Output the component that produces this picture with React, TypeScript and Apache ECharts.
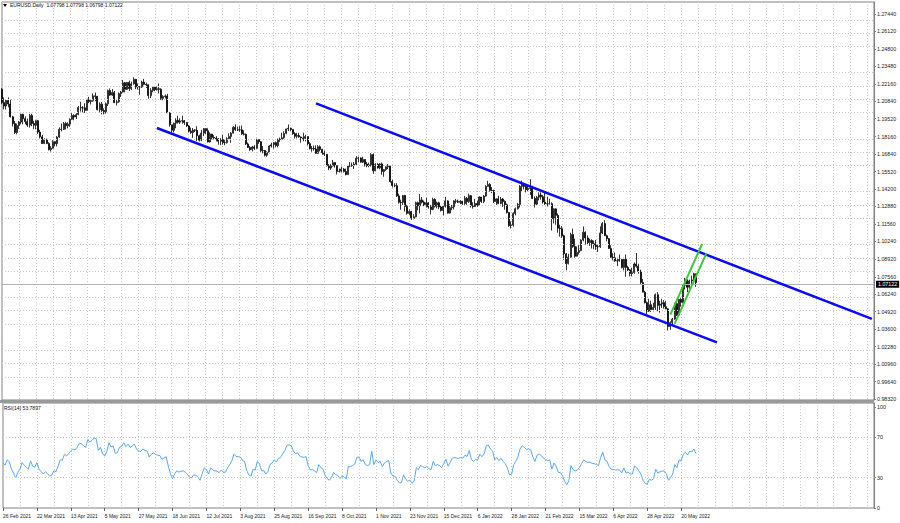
import React, { useEffect, useRef } from "react";
import * as echarts from "echarts";

const symbolName = "EURUSD.Daily";
const firstOpen = 1.2175;

const closes = [
  1.2074,1.2048,1.2090,1.2063,1.1966,1.1915,1.1847,1.1900,1.1927,1.1985,
  1.1952,1.1930,1.1904,1.1977,1.1916,1.1903,1.1937,1.1851,1.1815,1.1765,
  1.1793,1.1764,1.1718,1.1729,1.1778,1.1763,1.1813,1.1872,1.1871,1.1915,
  1.1899,1.1911,1.1948,1.1977,1.1965,1.1983,1.2036,1.2034,1.2034,1.2015,
  1.2095,1.2082,1.2089,1.2125,1.2121,1.2020,1.2062,1.2014,1.2005,1.2065,
  1.2165,1.2131,1.2150,1.2073,1.2080,1.2142,1.2154,1.2224,1.2174,1.2227,
  1.2180,1.2215,1.2250,1.2193,1.2194,1.2193,1.2229,1.2212,1.2209,1.2127,
  1.2166,1.2191,1.2172,1.2179,1.2174,1.2106,1.2120,1.2124,1.1996,1.1906,
  1.1864,1.1918,1.1940,1.1926,1.1935,1.1937,1.1924,1.1897,1.1858,1.1847,
  1.1866,1.1865,1.1823,1.1790,1.1843,1.1877,1.1861,1.1776,1.1836,1.1810,
  1.1806,1.1800,1.1781,1.1794,1.1771,1.1771,1.1801,1.1817,1.1843,1.1887,
  1.1869,1.1868,1.1868,1.1837,1.1834,1.1761,1.1735,1.1718,1.1738,1.1728,
  1.1794,1.1778,1.1710,1.1712,1.1676,1.1697,1.1745,1.1755,1.1771,1.1750,
  1.1795,1.1797,1.1808,1.1841,1.1874,1.1880,1.1871,1.1839,1.1819,1.1825,
  1.1814,1.1807,1.1803,1.1817,1.1763,1.1725,1.1726,1.1723,1.1690,1.1740,
  1.1720,1.1694,1.1683,1.1597,1.1579,1.1595,1.1620,1.1597,1.1553,1.1555,
  1.1571,1.1552,1.1529,1.1594,1.1597,1.1600,1.1608,1.1653,1.1655,1.1623,
  1.1644,1.1609,1.1597,1.1603,1.1681,1.1558,1.1607,1.1580,1.1610,1.1553,
  1.1567,1.1588,1.1594,1.1478,1.1446,1.1445,1.1368,1.1320,1.1319,1.1371,
  1.1288,1.1236,1.1250,1.1197,1.1210,1.1317,1.1293,1.1338,1.1321,1.1302,
  1.1316,1.1285,1.1265,1.1342,1.1290,1.1316,1.1284,1.1258,1.1290,1.1330,
  1.1238,1.1279,1.1285,1.1330,1.1328,1.1320,1.1328,1.1310,1.1350,1.1325,
  1.1370,1.1296,1.1287,1.1311,1.1297,1.1360,1.1326,1.1367,1.1440,1.1455,
  1.1410,1.1409,1.1325,1.1346,1.1311,1.1344,1.1325,1.1302,1.1243,1.1143,
  1.1147,1.1235,1.1271,1.1303,1.1440,1.1457,1.1440,1.1416,1.1424,1.1425,
  1.1349,1.1306,1.1358,1.1375,1.1362,1.1322,1.1309,1.1308,1.1309,1.1196,
  1.1270,1.1221,1.1124,1.1120,1.1066,1.0930,1.0856,1.0905,1.1076,1.0985,
  1.0912,1.0940,1.0955,1.1034,1.1093,1.1050,1.1016,1.1031,1.1007,1.0997,
  1.0983,1.0983,1.1087,1.1159,1.1067,1.1045,1.0970,1.0904,1.0900,1.0876,
  1.0877,1.0888,1.0827,1.0889,1.0827,1.0808,1.0781,1.0788,1.0853,1.0836,
  1.0798,1.0713,1.0640,1.0560,1.0498,1.0545,1.0508,1.0525,1.0621,1.0540,
  1.0550,1.0560,1.0530,1.0514,1.0380,1.0410,1.0436,1.0553,1.0467,1.0585,
  1.0563,1.0692,1.0734,1.0677,1.0725,1.0733,1.07798,1.07122
];

const highs = [
  1.2183,1.2113,1.2100,1.2113,1.2095,1.1974,1.1935,1.1915,1.1935,1.1990,
  1.1990,1.1970,1.1953,1.1989,1.1990,1.1936,1.1944,1.1943,1.1868,1.1830,
  1.1804,1.1802,1.1775,1.1745,1.1790,1.1780,1.1820,1.1887,1.1915,1.1927,
  1.1928,1.1925,1.1955,1.1994,1.1986,1.1994,1.2048,1.2080,1.2047,1.2069,
  1.2102,1.2117,1.2095,1.2143,1.2150,1.2125,1.2075,1.2078,1.2030,1.2075,
  1.2172,1.2181,1.2177,1.2162,1.2093,1.2150,1.2162,1.2245,1.2229,1.2230,
  1.2240,1.2232,1.2266,1.2253,1.2219,1.2200,1.2240,1.2254,1.2225,1.2213,
  1.2183,1.2195,1.2192,1.2196,1.2218,1.2183,1.2130,1.2135,1.2140,1.2003,
  1.1906,1.1922,1.1955,1.1975,1.1955,1.1975,1.1942,1.1926,1.1904,1.1885,
  1.1882,1.1873,1.1895,1.1832,1.1868,1.1880,1.1880,1.1880,1.1849,1.1838,
  1.1828,1.1820,1.1806,1.1806,1.1829,1.1791,1.1812,1.1841,1.1850,1.1896,
  1.1909,1.1892,1.1896,1.1900,1.1865,1.1840,1.1772,1.1746,1.1745,1.1752,
  1.1800,1.1794,1.1783,1.1745,1.1715,1.1705,1.1752,1.1770,1.1776,1.1780,
  1.1802,1.1810,1.1846,1.1857,1.1876,1.1909,1.1885,1.1872,1.1850,1.1845,
  1.1845,1.1817,1.1846,1.1830,1.1817,1.1775,1.1745,1.1750,1.1750,1.1752,
  1.1750,1.1725,1.1712,1.1685,1.1610,1.1610,1.1640,1.1625,1.1600,1.1575,
  1.1590,1.1580,1.1575,1.1600,1.1624,1.1620,1.1625,1.1668,1.1665,1.1660,
  1.1665,1.1645,1.1625,1.1620,1.1692,1.1690,1.1616,1.1615,1.1616,1.1620,
  1.1570,1.1590,1.1609,1.1595,1.1490,1.1464,1.1465,1.1385,1.1340,1.1375,
  1.1375,1.1300,1.1265,1.1255,1.1230,1.1325,1.1325,1.1383,1.1360,1.1333,
  1.1355,1.1320,1.1300,1.1355,1.1350,1.1325,1.1325,1.1295,1.1300,1.1360,
  1.1335,1.1305,1.1300,1.1335,1.1345,1.1340,1.1335,1.1330,1.1368,1.1360,
  1.1385,1.1375,1.1320,1.1346,1.1331,1.1365,1.1360,1.1375,1.1450,1.1482,
  1.1465,1.1435,1.1415,1.1350,1.1369,1.1360,1.1352,1.1335,1.1310,1.1245,
  1.1175,1.1245,1.1280,1.1315,1.1450,1.1483,1.1465,1.1445,1.1450,1.1495,
  1.1445,1.1365,1.1368,1.1395,1.1395,1.1375,1.1395,1.1362,1.1347,1.1320,
  1.1275,1.1275,1.1235,1.1150,1.1140,1.1075,1.0935,1.0930,1.1090,1.1121,
  1.1045,1.0985,1.0995,1.1040,1.1137,1.1100,1.1070,1.1045,1.1040,1.1030,
  1.1035,1.1000,1.1138,1.1170,1.1185,1.1075,1.1050,1.0995,1.0935,1.0940,
  1.0900,1.0925,1.0890,1.0900,1.0925,1.0840,1.0815,1.0825,1.0865,1.0936,
  1.0855,1.0810,1.0740,1.0650,1.0570,1.0590,1.0575,1.0560,1.0630,1.0640,
  1.0575,1.0590,1.0580,1.0575,1.0518,1.0420,1.0445,1.0560,1.0565,1.0590,
  1.0595,1.0695,1.0748,1.0735,1.0735,1.0765,1.0787,1.07798
];

const lows = [
  1.2062,1.2023,1.2022,1.2039,1.1962,1.1893,1.1836,1.1834,1.1875,1.1910,
  1.1910,1.1910,1.1890,1.1885,1.1895,1.1873,1.1872,1.1837,1.1803,1.1762,
  1.1760,1.1760,1.1712,1.1704,1.1725,1.1743,1.1743,1.1808,1.1856,1.1866,
  1.1870,1.1879,1.1890,1.1944,1.1940,1.1950,1.1979,1.2006,1.2000,1.1995,
  1.2015,1.2070,1.2060,1.2080,1.2084,1.2015,1.2000,1.1986,1.1985,1.1990,
  1.2048,1.2125,1.2125,1.2073,1.2052,1.2073,1.2117,1.2150,1.2151,1.2170,
  1.2162,1.2168,1.2210,1.2176,1.2172,1.2133,1.2185,1.2205,1.2185,1.2104,
  1.2108,1.2152,1.2160,1.2164,1.2143,1.2093,1.2092,1.2105,1.1995,1.1892,
  1.1847,1.1848,1.1880,1.1915,1.1912,1.1915,1.1905,1.1890,1.1848,1.1837,
  1.1807,1.1852,1.1782,1.1780,1.1782,1.1820,1.1836,1.1772,1.1772,1.1795,
  1.1795,1.1780,1.1755,1.1752,1.1755,1.1752,1.1764,1.1798,1.1770,1.1840,
  1.1859,1.1859,1.1853,1.1830,1.1825,1.1752,1.1730,1.1707,1.1705,1.1715,
  1.1725,1.1762,1.1700,1.1690,1.1666,1.1664,1.1690,1.1734,1.1725,1.1735,
  1.1735,1.1777,1.1790,1.1800,1.1834,1.1858,1.1858,1.1830,1.1802,1.1803,
  1.1808,1.1770,1.1782,1.1782,1.1750,1.1720,1.1702,1.1710,1.1685,1.1685,
  1.1705,1.1680,1.1670,1.1590,1.1563,1.1565,1.1590,1.1582,1.1530,1.1545,
  1.1545,1.1545,1.1524,1.1530,1.1585,1.1588,1.1571,1.1600,1.1622,1.1620,
  1.1618,1.1590,1.1585,1.1585,1.1590,1.1535,1.1555,1.1575,1.1570,1.1528,
  1.1513,1.1558,1.1570,1.1468,1.1432,1.1434,1.1360,1.1310,1.1263,1.1300,
  1.1250,1.1227,1.1225,1.1186,1.1192,1.1206,1.1260,1.1235,1.1310,1.1290,
  1.1280,1.1272,1.1228,1.1260,1.1280,1.1275,1.1268,1.1250,1.1222,1.1280,
  1.1235,1.1235,1.1260,1.1265,1.1310,1.1315,1.1305,1.1300,1.1300,1.1300,
  1.1315,1.1280,1.1272,1.1285,1.1285,1.1292,1.1315,1.1313,1.1363,1.1438,
  1.1400,1.1390,1.1315,1.1300,1.1305,1.1305,1.1285,1.1264,1.1235,1.1135,
  1.1121,1.1135,1.1221,1.1265,1.1280,1.1400,1.1417,1.1395,1.1400,1.1375,
  1.1345,1.1280,1.1295,1.1335,1.1340,1.1310,1.1300,1.1288,1.1303,1.1106,
  1.1160,1.1150,1.1090,1.1060,1.1050,1.0885,1.0806,1.0850,1.0900,1.0975,
  1.0900,1.0910,1.0925,1.0950,1.1025,1.1000,1.0995,1.0990,1.0970,1.0965,
  1.0960,1.0945,1.0975,1.1080,1.1065,1.1025,1.0970,1.0900,1.0880,1.0870,
  1.0837,1.0870,1.0820,1.0805,1.0757,1.0800,1.0760,1.0760,1.0780,1.0825,
  1.0780,1.0695,1.0640,1.0555,1.0471,1.0490,1.0490,1.0495,1.0505,1.0495,
  1.0485,1.0520,1.0515,1.0510,1.0350,1.0355,1.0390,1.0430,1.0460,1.0460,
  1.0530,1.0555,1.0660,1.0640,1.0665,1.0695,1.0725,1.06798
];

const rsiValues = [
  44.6,42.5,47.7,45.5,38.5,34.5,29.7,35.5,38.4,44.9,
  42.5,40.2,38.5,46.7,41.4,40.5,44.9,38.4,36.0,33.7,
  35.9,34.0,31.6,32.5,36.8,36.0,41.5,47.7,47.5,53.3,
  51.5,53.9,56.5,58.5,57.5,60.1,64.0,63.8,61.6,60.0,
  67.8,65.5,66.9,69.4,68.5,57.0,60.1,53.9,51.4,56.0,
  64.7,60.5,61.5,53.9,55.0,60.1,61.0,64.7,60.7,63.2,
  60.1,61.5,63.2,58.5,56.3,56.0,58.5,57.0,56.5,50.5,
  53.3,54.5,53.0,52.3,52.0,48.3,49.5,50.8,41.4,34.0,
  29.1,33.7,36.8,35.5,36.5,36.8,35.5,33.5,30.6,30.0,
  32.8,32.6,30.5,27.5,34.0,39.8,38.0,33.7,39.8,37.5,
  36.8,36.5,35.0,37.7,35.5,35.5,40.0,43.0,47.0,53.3,
  51.0,50.8,50.5,47.0,46.1,37.0,32.8,31.5,38.4,37.5,
  46.1,44.0,36.8,37.0,33.7,36.0,43.0,44.5,47.7,45.5,
  49.3,50.0,53.9,57.0,62.2,62.5,61.6,56.5,53.9,54.5,
  51.4,50.5,50.2,50.8,42.0,37.7,38.0,36.8,35.0,43.0,
  40.0,38.4,32.2,29.0,27.5,30.0,35.3,33.0,32.2,29.1,
  31.6,30.5,29.1,41.4,41.0,42.1,43.5,50.2,50.5,46.1,
  47.7,43.0,42.0,43.0,56.3,43.0,47.7,45.0,46.1,41.0,
  44.6,46.0,47.1,34.7,31.6,31.5,27.5,25.0,25.0,32.8,
  28.5,26.6,27.5,24.5,26.6,39.8,38.0,42.1,41.0,39.8,
  41.0,39.0,38.0,46.1,42.0,43.0,42.0,40.0,44.0,48.3,
  41.4,45.0,49.3,50.0,49.5,49.0,50.2,49.3,52.3,51.0,
  57.0,48.0,46.1,48.0,47.7,53.3,50.8,53.5,61.6,62.5,
  58.5,56.5,47.7,50.0,47.0,49.3,46.1,44.0,39.8,32.8,
  33.5,43.0,46.0,50.8,58.5,61.6,60.1,58.0,58.5,57.5,
  50.8,46.1,52.3,53.5,52.0,49.3,48.0,47.1,47.5,38.4,
  44.6,41.5,35.3,35.0,32.2,26.5,22.8,27.0,42.1,38.0,
  36.8,37.5,39.8,44.0,47.7,46.0,45.2,45.5,44.0,44.0,
  43.0,42.1,50.0,55.4,47.7,46.5,41.0,38.4,38.0,37.7,
  37.8,37.5,34.7,39.8,34.7,35.5,33.7,33.7,41.4,40.0,
  37.0,33.7,27.5,24.5,23.5,28.5,27.5,29.0,38.4,34.5,
  35.9,36.5,36.8,34.0,27.5,30.0,33.7,43.0,40.0,47.7,
  46.5,53.0,55.4,52.5,56.3,55.4,58.5,53.7897
];

const rsiName = "RSI(14)";

const dateLabels = [
  "26 Feb 2021","22 Mar 2021","13 Apr 2021","5 May 2021","27 May 2021","18 Jun 2021",
  "12 Jul 2021","3 Aug 2021","25 Aug 2021","16 Sep 2021","8 Oct 2021","1 Nov 2021",
  "23 Nov 2021","15 Dec 2021","6 Jan 2022","28 Jan 2022","21 Feb 2022","15 Mar 2022",
  "6 Apr 2022","28 Apr 2022","20 May 2022"
];

const priceLabels = [
  1.27440,1.26120,1.24800,1.23480,1.22160,1.20840,1.19520,1.18160,1.16840,1.15520,
  1.14200,1.12880,1.11560,1.10240,1.08920,1.07560,1.06240,1.04920,1.03600,1.02280,
  1.00960,0.99640,0.98320
];

const rsiLevelLabels = [0, 30, 70, 100];
const rsiGridLevels = [30, 70];

const upperChannel = [[148, 1.20678], [410, 1.04377]];
const lowerChannel = [[73, 1.18817], [337, 1.02607]];
const greenUpper = [[315, 1.04703], [330, 1.10043]];
const greenLower = [[317, 1.04000], [332, 1.09340]];

const TOTAL_SLOTS = 412;
const LABEL_EVERY = 16;
const GRID_EVERY = 8;

const FONT = "Liberation Sans, Arial, sans-serif";

export default function App() {
  const ref = useRef<HTMLDivElement>(null);

  useEffect(() => {
    if (!ref.current) return;
    const chart = echarts.init(ref.current, null, { renderer: "svg" });

    const opens = closes.map((c, i) => (i === 0 ? firstOpen : closes[i - 1]));
    const candleData = closes.map((c, i) => {
      const o = opens[i];
      const h = Math.max(highs[i], o, c);
      const l = Math.min(lows[i], o, c);
      return [o, c, l, h];
    });
    const last = closes.length - 1;
    const headerText = `${symbolName}  ${opens[last].toFixed(5)} ${highs[last].toFixed(5)} ${lows[last].toFixed(5)} ${closes[last].toFixed(5)}`;
    const rsiHeader = `${rsiName} ${rsiValues[last].toFixed(4)}`;
    const categories = Array.from({ length: TOTAL_SLOTS }, (_, i) => String(i));

    const gridLineStyle = { color: "#c8c8c8", type: [1, 2] as any, width: 1 };
    const labelInterval = (i: number) => i % LABEL_EVERY === 0 && i / LABEL_EVERY < dateLabels.length;
    const splitInterval = (i: number) => i % GRID_EVERY === 0;

    const option: any = {
      animation: false,
      backgroundColor: "#ffffff",
      textStyle: { fontFamily: FONT },
      grid: [
        { left: 2, right: 26, top: 2, height: 398, show: true, borderColor: "#808080", borderWidth: 1, backgroundColor: "transparent" },
        { left: 2, right: 26, top: 403, height: 105, show: true, borderColor: "#808080", borderWidth: 1, backgroundColor: "transparent" },
      ],
      xAxis: [
        {
          type: "category", gridIndex: 0, data: categories, boundaryGap: false,
          axisLine: { show: false }, axisTick: { show: false }, axisLabel: { show: false },
          splitLine: { show: true, interval: splitInterval, lineStyle: gridLineStyle },
        },
        {
          type: "category", gridIndex: 1, data: categories, boundaryGap: false,
          axisLine: { show: false },
          axisTick: { show: true, interval: labelInterval, length: 3, lineStyle: { color: "#606060" } },
          axisLabel: {
            show: true, interval: labelInterval, align: "left", margin: 5, fontSize: 5, color: "#222",
            fontFamily: FONT,
            formatter: (_v: string, i: number) => dateLabels[i / LABEL_EVERY] ?? "",
          },
          splitLine: { show: true, interval: splitInterval, lineStyle: gridLineStyle },
        },
      ],
      yAxis: [
        {
          type: "value", gridIndex: 0, position: "right", min: 0.98244, max: 1.28348,
          axisLine: { show: true, lineStyle: { color: "#808080" } },
          axisTick: { show: true, customValues: priceLabels, length: 2, lineStyle: { color: "#808080" } },
          axisLabel: {
            show: true, customValues: priceLabels, fontSize: 5.3, color: "#222", margin: 3, fontFamily: FONT,
            formatter: (v: number) => v.toFixed(5),
          },
          splitLine: { show: false },
        },
        {
          type: "value", gridIndex: 1, position: "right", min: 0, max: 104,
          axisLine: { show: true, lineStyle: { color: "#808080" } },
          axisTick: { show: true, customValues: rsiLevelLabels, length: 2, lineStyle: { color: "#808080" } },
          axisLabel: {
            show: true, customValues: rsiLevelLabels, fontSize: 5.3, color: "#222", margin: 3, fontFamily: FONT,
            formatter: (v: number) => String(v),
          },
          splitLine: { show: false },
        },
      ],
      series: [
        {
          type: "line", xAxisIndex: 0, yAxisIndex: 0, data: [], z: 1, silent: true,
          markLine: {
            silent: true, symbol: ["none", "none"], animation: false,
            label: { show: false },
            lineStyle: gridLineStyle,
            data: [
              ...priceLabels.map((v) => ({ yAxis: v })),
              {
                yAxis: closes[last],
                lineStyle: { color: "#b4b4b4", type: "solid", width: 1 },
                label: {
                  show: true, position: "end", distance: 2,
                  formatter: closes[last].toFixed(5),
                  backgroundColor: "#000", color: "#fff", fontSize: 5.3, padding: [1, 2, 1, 2],
                  fontFamily: FONT,
                },
              },
            ],
          },
        },
        {
          type: "candlestick", xAxisIndex: 0, yAxisIndex: 0, data: candleData, z: 3,
          barWidth: 1.5,
          itemStyle: { color: "#ffffff", color0: "#000000", borderColor: "#000000", borderColor0: "#000000", borderWidth: 0.8 },
        },
        {
          type: "line", xAxisIndex: 0, yAxisIndex: 0, data: upperChannel, symbol: "none", z: 5,
          lineStyle: { color: "#0a0af5", width: 2.5 },
        },
        {
          type: "line", xAxisIndex: 0, yAxisIndex: 0, data: lowerChannel, symbol: "none", z: 5,
          lineStyle: { color: "#0a0af5", width: 2.5 },
        },
        {
          type: "line", xAxisIndex: 0, yAxisIndex: 0, data: greenUpper, symbol: "none", z: 5,
          lineStyle: { color: "#3cc83c", width: 2 },
        },
        {
          type: "line", xAxisIndex: 0, yAxisIndex: 0, data: greenLower, symbol: "none", z: 5,
          lineStyle: { color: "#3cc83c", width: 2 },
        },
        {
          type: "line", xAxisIndex: 1, yAxisIndex: 1, data: rsiValues, symbol: "none", z: 3,
          lineStyle: { color: "#5aa8f0", width: 1 },
          markLine: {
            silent: true, symbol: ["none", "none"], animation: false,
            label: { show: false }, lineStyle: gridLineStyle,
            data: rsiGridLevels.map((v) => ({ yAxis: v })),
          },
        },
      ],
      graphic: [
        { type: "rect", silent: true, z: 10, shape: { x: 0, y: 400, width: 874, height: 3 }, style: { fill: "#9a9a9a" } },
        { type: "polygon", silent: true, z: 10, shape: { points: [[3, 4], [7, 4], [5, 7]] }, style: { fill: "#000" } },
        { type: "text", silent: true, z: 10, left: 10, top: 2, style: { text: headerText, fontSize: 5, fill: "#111", fontFamily: FONT } },
        { type: "text", silent: true, z: 10, left: 4, top: 405, style: { text: rsiHeader, fontSize: 5, fill: "#111", fontFamily: FONT } },
      ],
    };

    chart.setOption(option);
    return () => chart.dispose();
  }, []);

  return (
    <div
      ref={ref}
      style={{ position: "fixed", left: 0, top: 0, width: 900, height: 523, background: "#fff" }}
    />
  );
}
